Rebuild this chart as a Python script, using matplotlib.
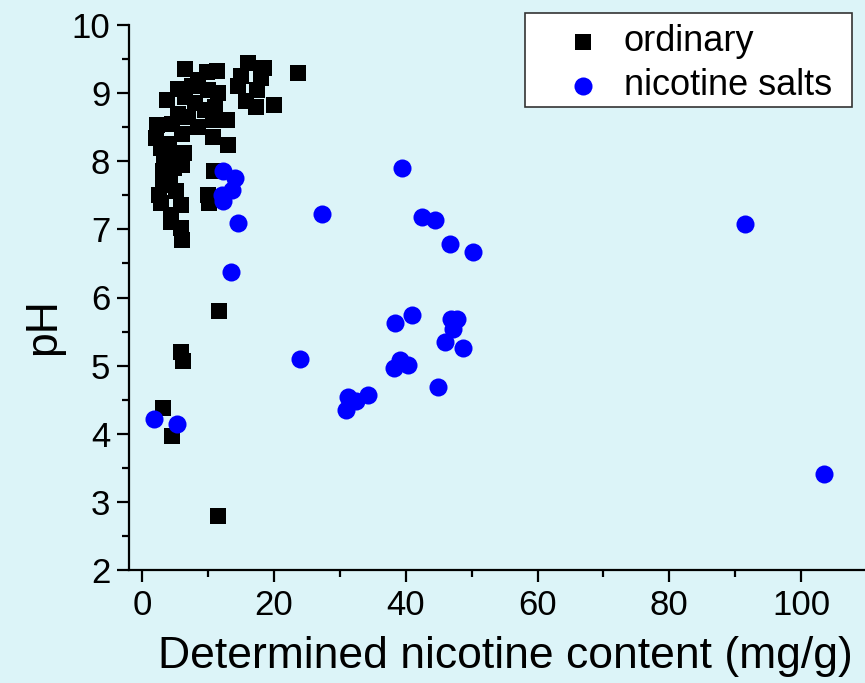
import numpy as np
import matplotlib
matplotlib.use('Agg')
import matplotlib.pyplot as plt
from matplotlib.ticker import MultipleLocator
from matplotlib.patches import Rectangle

plt.rcParams['font.family'] = ['Liberation Sans', 'DejaVu Sans']

# ordinary e-liquids (nicotine content mg/g, pH)
ord_x = [6.5, 9.8, 11.3, 16.1, 18.5, 23.7, 18.0, 14.5, 17.5, 15.8, 17.2, 20.0, 15.0, 12.9, 13.1,
         5.5, 3.7, 7.5, 8.5, 10.0, 11.5, 6.5, 8.0, 9.5, 11.0, 10.7, 10.7, 7.0, 5.5, 4.5,
         8.5, 6.0, 2.3, 2.1, 2.8, 4.0, 5.0, 3.3, 6.4, 3.1, 6.1, 4.8, 3.1, 5.1, 4.2,
         2.6, 2.8, 5.9, 4.4, 4.4, 5.9, 6.1, 10.9, 10.0, 10.1,
         11.6, 5.9, 6.2, 3.1, 4.5, 11.5]
ord_y = [9.35, 9.31, 9.33, 9.44, 9.37, 9.29, 9.22, 9.10, 9.05, 8.88, 8.79, 8.83, 9.25, 8.61, 8.24,
         9.06, 8.90, 9.10, 9.20, 9.05, 9.00, 8.95, 8.85, 8.75, 8.80, 8.61, 8.36, 8.65, 8.70, 8.55,
         8.50, 8.40, 8.53, 8.34, 8.20, 8.25, 8.10, 8.09, 8.12, 7.85, 7.95, 7.90, 7.65, 7.56, 7.70,
         7.51, 7.38, 7.36, 7.21, 7.11, 7.02, 6.85, 7.86, 7.51, 7.38,
         5.80, 5.20, 5.07, 4.38, 3.97, 2.79]

# nicotine salt e-liquids
salt_x = [39.5, 27.3, 42.4, 44.5, 46.7, 50.2, 41.0, 38.4, 46.8, 47.8, 47.2, 46.0, 48.7,
          23.9, 39.1, 40.4, 38.2, 44.9, 34.3, 32.4, 31.3, 30.9,
          12.2, 14.1, 13.7, 12.1, 12.2, 14.6, 13.5, 1.8, 5.3, 91.5, 103.5]
salt_y = [7.90, 7.23, 7.18, 7.14, 6.79, 6.67, 5.75, 5.62, 5.68, 5.69, 5.54, 5.35, 5.26,
          5.09, 5.08, 5.01, 4.96, 4.69, 4.57, 4.48, 4.54, 4.35,
          7.86, 7.76, 7.58, 7.51, 7.41, 7.10, 6.37, 4.22, 4.14, 7.08, 3.41]

W, H = 865, 683
bg = '#dcf4f8'
fig = plt.figure(figsize=(W / 100, H / 100), dpi=100, facecolor=bg)
ax = fig.add_axes([129/W, 113/H, 736/W, 545/H], facecolor=bg)

ax.scatter(ord_x, ord_y, marker='s', s=11.5**2, color='black', linewidths=0,
           label='ordinary', zorder=3)
ax.scatter(salt_x, salt_y, marker='o', s=13**2, color='#0000ff', linewidths=0,
           label='nicotine salts', zorder=4)

ax.set_xlim(-2, 109.7)
ax.set_ylim(2, 10)
ax.xaxis.set_major_locator(MultipleLocator(20))
ax.xaxis.set_minor_locator(MultipleLocator(10))
ax.yaxis.set_major_locator(MultipleLocator(1))
ax.yaxis.set_minor_locator(MultipleLocator(0.5))

for side in ['top', 'right']:
    ax.spines[side].set_visible(False)
for side in ['left', 'bottom']:
    ax.spines[side].set_linewidth(1.6)

ax.tick_params(which='major', direction='out', length=8.5, width=1.6, labelsize=25, pad=5)
ax.tick_params(which='minor', direction='out', length=5, width=1.6)

ax.set_xlabel('Determined nicotine content (mg/g)', fontsize=32)
ax.set_ylabel('pH', fontsize=32)
ax.xaxis.set_label_coords(0.511, -0.122)
ax.yaxis.set_label_coords(-0.088, 0.446)

# legend box drawn separately, entries placed inside it
box = Rectangle((525/W, 1 - 107/H), 327/W, 94/H, transform=fig.transFigure,
                facecolor='white', edgecolor='#333333', linewidth=1.2,
                clip_on=False, zorder=5)
ax.add_patch(box)
leg = ax.legend(loc='center left', bbox_to_anchor=(565/W, 1 - 63.5/H),
                bbox_transform=fig.transFigure, borderaxespad=0, borderpad=0,
                fontsize=26, frameon=False, handlelength=1.0, handletextpad=0.62,
                labelspacing=0.25)
leg.set_zorder(6)

fig.savefig('out.png', dpi=100, facecolor=bg)
